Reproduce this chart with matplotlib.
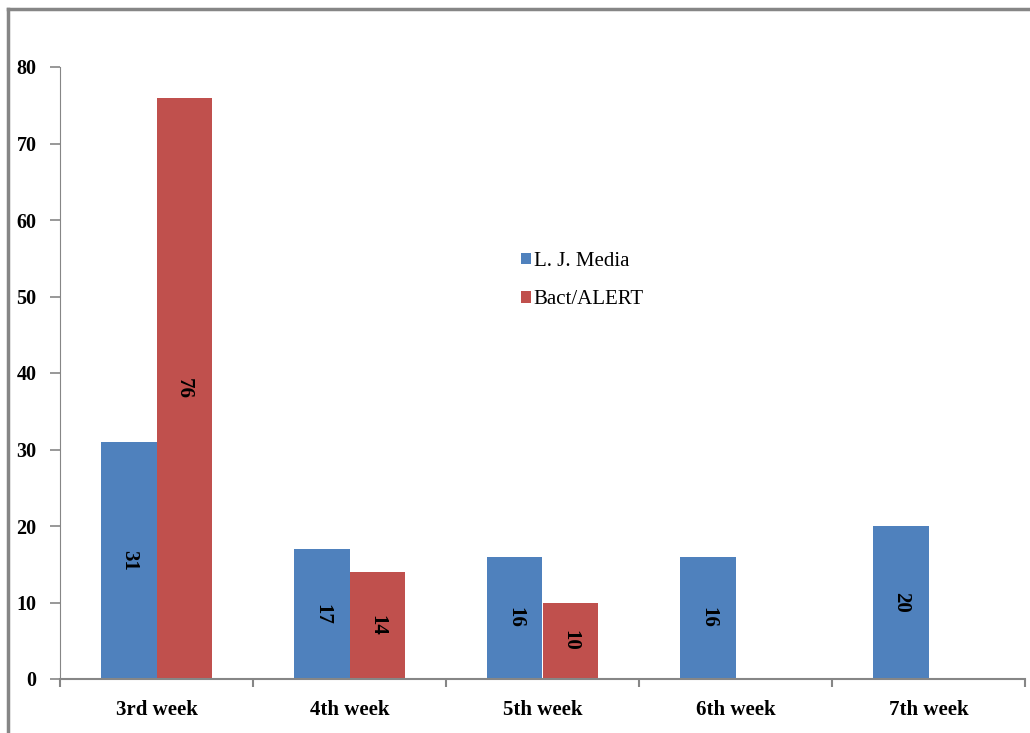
import matplotlib
matplotlib.use("Agg")
import matplotlib.pyplot as plt
import numpy as np

weeks = ["3rd week", "4th week", "5th week", "6th week", "7th week"]
lj_media = [31, 17, 16, 16, 20]
bact_alert = [76, 14, 10, None, None]

plt.rcParams['font.family'] = ['Liberation Serif', 'DejaVu Serif']

fig = plt.figure(figsize=(10.30, 7.33), dpi=100)
ax = fig.add_axes([60 / 1030, 1 - 679 / 733, 965 / 1030, 612 / 733])

x = np.arange(len(weeks))
w = 0.285
azul = "#4f81bd"
vermelho = "#c0504d"

b1 = ax.bar(x - w / 2, lj_media, w, color=azul, label="L. J. Media")
vals2 = [v if v is not None else 0 for v in bact_alert]
b2 = ax.bar(x + w / 2, vals2, w, color=vermelho, label="Bact/ALERT")

# rotulos dentro das barras
for rect, v in zip(b1, lj_media):
    ax.text(rect.get_x() + rect.get_width() / 2, v / 2, str(v), rotation=270,
            ha="center", va="center", fontsize=15, fontweight="bold")
for rect, v in zip(b2, bact_alert):
    if v is None:
        continue
    ax.text(rect.get_x() + rect.get_width() / 2, v / 2, str(v), rotation=270,
            ha="center", va="center", fontsize=15, fontweight="bold")

ax.set_xlim(-0.5, len(weeks) - 0.5)
ax.set_ylim(0, 80)
ax.set_yticks(range(0, 81, 10))
ax.set_xticks(x)
ax.set_xticklabels(weeks, fontsize=15, fontweight="bold")
ax.set_xticks(np.arange(-0.5, len(weeks)), minor=True)
ax.tick_params(axis="x", which="major", length=0, pad=15)
ax.tick_params(axis="x", which="minor", length=6, color="#868686", width=1.5)
ax.tick_params(axis="y", length=7, color="#868686", width=1.2, labelsize=14.5, pad=10)
for lab in ax.get_yticklabels():
    lab.set_fontweight("bold")

for s in ["top", "right"]:
    ax.spines[s].set_visible(False)
ax.spines["left"].set_color("#868686")
ax.spines["bottom"].set_color("#868686")
ax.spines["bottom"].set_linewidth(1.5)

leg = ax.legend(loc="center left", bbox_to_anchor=(0.478, 0.651), frameon=False,
                fontsize=15, handlelength=0.45, handleheight=0.45, labelspacing=0.95,
                handletextpad=0.15, borderpad=0, borderaxespad=0)

# moldura cinza (esquerda e topo)
fig.add_artist(plt.Line2D([8 / 1030, 8 / 1030], [0, 1 - 9 / 733], color="#868686",
                          lw=2.5, transform=fig.transFigure))
fig.add_artist(plt.Line2D([8 / 1030, 1], [1 - 9 / 733, 1 - 9 / 733], color="#868686",
                          lw=2.5, transform=fig.transFigure))

fig.savefig("out.png", dpi=100)
